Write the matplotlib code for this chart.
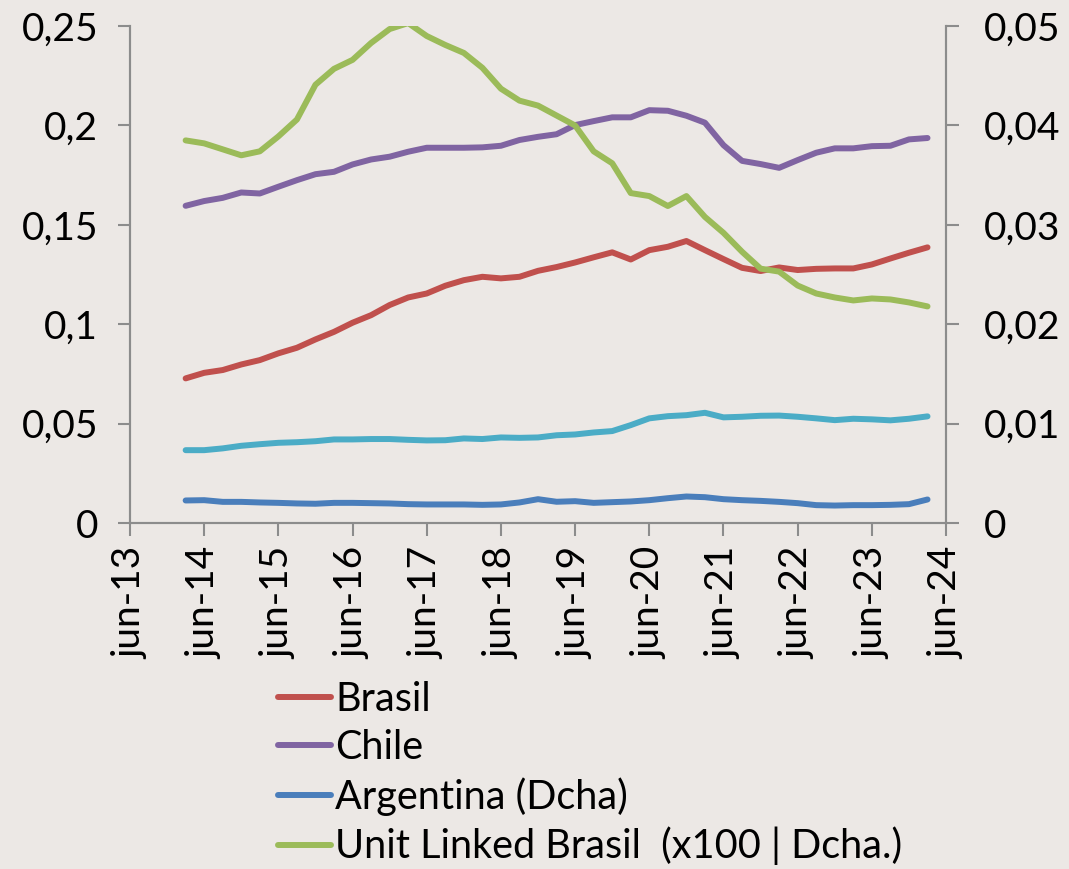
import matplotlib
matplotlib.use("Agg")
import matplotlib.pyplot as plt
import numpy as np

# quarterly data, mar-14 .. mar-24 (41 quarters)
quarters = np.arange(41)
tick_labels = ["jun-13", "jun-14", "jun-15", "jun-16", "jun-17", "jun-18",
               "jun-19", "jun-20", "jun-21", "jun-22", "jun-23", "jun-24"]

brasil = [0.0728, 0.0756, 0.0770, 0.0798, 0.0820, 0.0854, 0.0882, 0.0924, 0.0962, 0.1008,
          0.1046, 0.1097, 0.1135, 0.1155, 0.1194, 0.1222, 0.1239, 0.1231, 0.1239, 0.1269,
          0.1288, 0.1311, 0.1337, 0.1362, 0.1326, 0.1373, 0.1390, 0.1419, 0.1373, 0.1328,
          0.1284, 0.1268, 0.1286, 0.1273, 0.1279, 0.1281, 0.1281, 0.1301, 0.1331, 0.1360,
          0.1387]
chile = [0.1596, 0.1620, 0.1636, 0.1663, 0.1658, 0.1692, 0.1725, 0.1755, 0.1767, 0.1804,
         0.1829, 0.1843, 0.1868, 0.1888, 0.1888, 0.1888, 0.1890, 0.1898, 0.1927, 0.1943,
         0.1956, 0.2002, 0.2022, 0.2041, 0.2041, 0.2077, 0.2074, 0.2049, 0.2014, 0.1901,
         0.1822, 0.1806, 0.1787, 0.1826, 0.1863, 0.1885, 0.1885, 0.1896, 0.1898, 0.1930,
         0.1937]
otro = [0.0367, 0.0367, 0.0376, 0.0389, 0.0397, 0.0404, 0.0407, 0.0412, 0.0421, 0.0421,
        0.0423, 0.0423, 0.0419, 0.0416, 0.0417, 0.0426, 0.0423, 0.0431, 0.0429, 0.0431,
        0.0442, 0.0446, 0.0456, 0.0463, 0.0493, 0.0527, 0.0538, 0.0543, 0.0555, 0.0532,
        0.0535, 0.0540, 0.0541, 0.0535, 0.0527, 0.0518, 0.0525, 0.0522, 0.0517, 0.0525,
        0.0537]
argentina = [0.00228, 0.00231, 0.00214, 0.00214, 0.00208, 0.00204, 0.00198, 0.00195, 0.00204, 0.00204,
             0.00201, 0.00198, 0.00191, 0.00188, 0.00188, 0.00188, 0.00184, 0.00188, 0.00208, 0.00241,
             0.00215, 0.00221, 0.00204, 0.00211, 0.00218, 0.00231, 0.00251, 0.00268, 0.00261, 0.00241,
             0.00231, 0.00224, 0.00214, 0.00201, 0.00181, 0.00177, 0.00181, 0.00181, 0.00184, 0.00191,
             0.00238]
unit_linked = [0.0385, 0.0382, 0.0376, 0.0370, 0.0374, 0.0389, 0.0406, 0.0441, 0.0457, 0.0466,
               0.0483, 0.0497, 0.0503, 0.0490, 0.0481, 0.0473, 0.0458, 0.0437, 0.0425, 0.0420,
               0.0410, 0.0400, 0.0374, 0.0362, 0.0332, 0.0329, 0.0319, 0.0329, 0.0308, 0.0292,
               0.0273, 0.0256, 0.0253, 0.0239, 0.0231, 0.0227, 0.0224, 0.0226, 0.0225, 0.0222,
               0.0218]

plt.rcParams['font.family'] = ['Lato', 'DejaVu Sans']
bg = '#ECE8E5'
grey = '#8C8C8C'

# years after jun-13
x = 0.75 + 0.25 * quarters

fig = plt.figure(figsize=(10.69, 8.69), dpi=100, facecolor=bg)
ax = fig.add_axes([0.1216, 0.398, 0.7634, 0.572])
ax.set_facecolor('none')
ax2 = ax.twinx()

lw = 4.3
l1, = ax.plot(x, brasil, color='#C0504D', lw=lw, solid_capstyle='round', label='Brasil')
l2, = ax.plot(x, chile, color='#8064A2', lw=lw, solid_capstyle='round', label='Chile')
ax.plot(x, otro, color='#4BACC6', lw=lw, solid_capstyle='round')
l3, = ax2.plot(x, argentina, color='#4A7EBB', lw=lw, solid_capstyle='round', label='Argentina (Dcha)')
l4, = ax2.plot(x, unit_linked, color='#9BBB59', lw=lw, solid_capstyle='round',
               label='Unit Linked Brasil  (x100 | Dcha.)')

ax.set_xlim(0, 11)
ax.set_ylim(0, 0.25)
ax2.set_ylim(0, 0.05)

ax.set_xticks(np.arange(12))
ax.set_xticklabels(tick_labels, rotation=90)
left_ticks = [0, 0.05, 0.1, 0.15, 0.2, 0.25]
right_ticks = [0, 0.01, 0.02, 0.03, 0.04, 0.05]
ax.set_yticks(left_ticks)
ax.set_yticklabels([f"{t:g}".replace('.', ',') for t in left_ticks])
ax2.set_yticks(right_ticks)
ax2.set_yticklabels([f"{t:g}".replace('.', ',') for t in right_ticks])

for a in (ax, ax2):
    a.spines['top'].set_visible(False)
    for s in ('left', 'right', 'bottom'):
        a.spines[s].set_color(grey)
        a.spines[s].set_linewidth(1.5)
    a.tick_params(colors=grey, labelcolor='black', labelsize=28, length=9, width=1.5, direction='out')
ax.tick_params(axis='y', pad=14)
ax.tick_params(axis='x', pad=8)
ax2.tick_params(axis='y', pad=18)

fig.legend(handles=[l1, l2, l3, l4], loc='upper left', bbox_to_anchor=(0.26, 0.2165),
           frameon=False, fontsize=28.5, handlelength=1.35, handletextpad=0.1,
           labelspacing=0.28, borderpad=0, borderaxespad=0)

fig.savefig('out.png', dpi=100, facecolor=bg)
